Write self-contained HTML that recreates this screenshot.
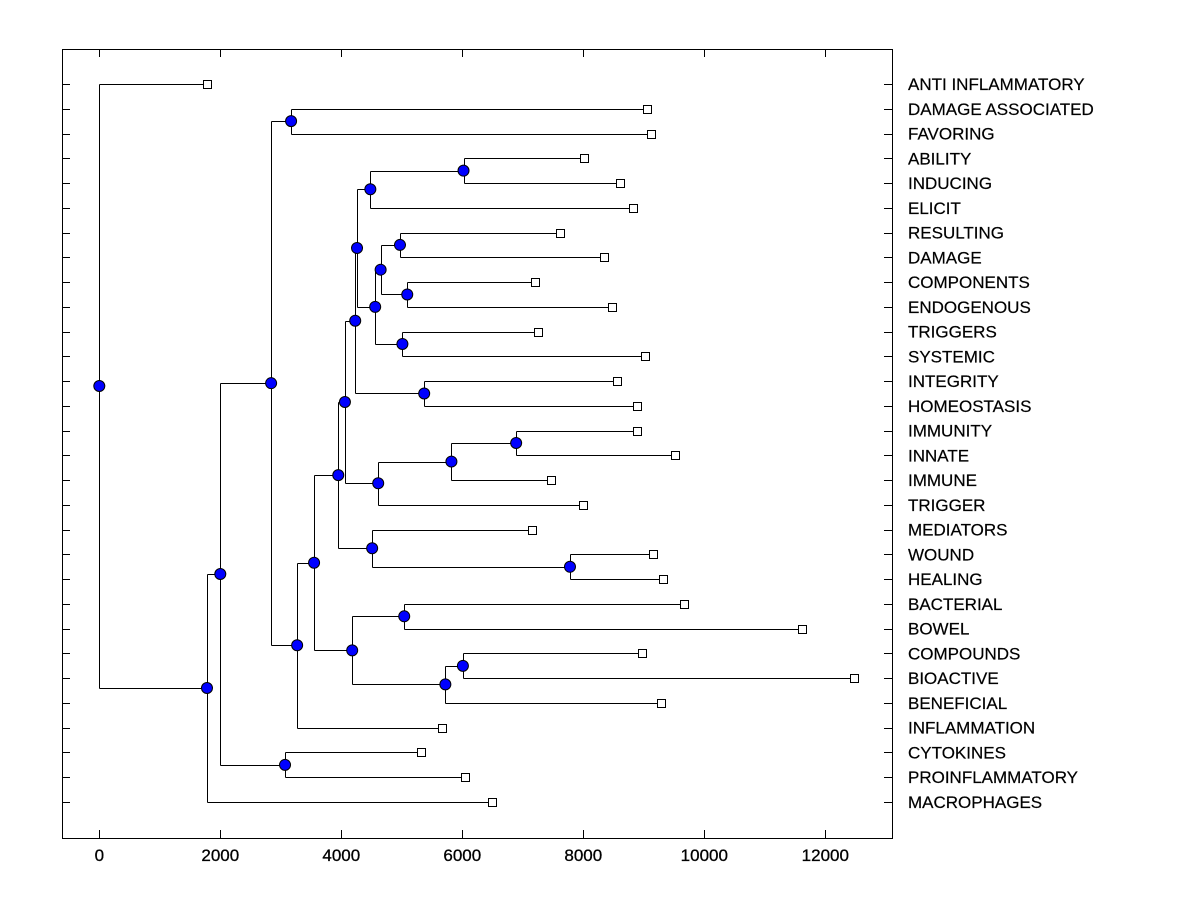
<!DOCTYPE html>
<html><head><meta charset="utf-8"><style>
html,body{margin:0;padding:0;background:#fff;}
svg{display:block;font-family:"Liberation Sans",Arial,sans-serif;}
</style></head><body>
<svg id="chart" width="1200" height="900" viewBox="0 0 1200 900" xmlns="http://www.w3.org/2000/svg">
<rect x="0" y="0" width="1200" height="900" fill="#fff"/>
<rect x="62.5" y="49.5" width="830" height="789" fill="none" stroke="#000" stroke-width="1"/>
<g id="axes"></g>
<g id="tree"></g>
<g id="marks"></g>
<g id="labels"></g>
</svg>
<script>
const leafNames = ["ANTI INFLAMMATORY","DAMAGE ASSOCIATED","FAVORING","ABILITY","INDUCING","ELICIT","RESULTING","DAMAGE","COMPONENTS","ENDOGENOUS","TRIGGERS","SYSTEMIC","INTEGRITY","HOMEOSTASIS","IMMUNITY","INNATE","IMMUNE","TRIGGER","MEDIATORS","WOUND","HEALING","BACTERIAL","BOWEL","COMPOUNDS","BIOACTIVE","BENEFICIAL","INFLAMMATION","CYTOKINES","PROINFLAMMATORY","MACROPHAGES"];
const leafValues = [1780,9050,9120,8010,8610,8820,7610,8340,7200,8470,7250,9020,8560,8890,8890,9510,7460,8000,7150,9150,9320,9670,11610,8970,12470,9290,5670,5320,6040,6490];
const nodeNames = ["X","AA","AB","Z","Y","W","V","T","U","P","S","R","Q","O","N","M","H","L","K","J","I","G","F","E","D","C","B","A","ROOT"];
const nodeHeights = [6020,4970,5090,5010,4650,4560,4480,4260,5370,4230,6890,5820,4610,7780,4510,4060,3950,6010,5720,5040,4180,3550,3270,3170,3070,2840,2000,1780,0];
const nodeChildren = [["L3","L4"],["L6","L7"],["L8","L9"],["L10","L11"],["AA","AB"],["Y","Z"],["X","L5"],["V","W"],["L12","L13"],["T","U"],["L14","L15"],["S","L16"],["R","L17"],["L19","L20"],["L18","O"],["P","Q"],["M","N"],["L23","L24"],["L","L25"],["L21","L22"],["J","K"],["H","I"],["G","L26"],["L1","L2"],["L27","L28"],["E","F"],["C","D"],["B","L29"],["L0","A"]];
const xTicks = [0,2000,4000,6000,8000,10000,12000];

const NS="http://www.w3.org/2000/svg";
const xScale = v => 99.3 + v*0.0605;
const rowY = i => 84 + i*(802-84)/29;
function mk(tag, attrs, parent){const e=document.createElementNS(NS,tag);for(const k in attrs)e.setAttribute(k,attrs[k]);parent.appendChild(e);return e;}
const axes=document.getElementById('axes'), tree=document.getElementById('tree'), marks=document.getElementById('marks'), labels=document.getElementById('labels');

xTicks.forEach(t=>{
  const x=Math.round(xScale(t))+0.5;
  const a=mk('line',{x1:x,x2:x,y1:838,y2:830,stroke:'#000'},axes);
  
  
  const b=mk('line',{x1:x,x2:x,y1:49,y2:57,stroke:'#000'},axes);
  
  
  const tx=mk('text',{x:xScale(t),y:861,'text-anchor':'middle','font-size':'17',fill:'#000','stroke':'#000','stroke-width':'0.3'},axes);
  tx.textContent=t;
  
  
});
leafNames.forEach((n,i)=>{
  const y=Math.round(rowY(i))+0.5;
  const a=mk('line',{x1:62,x2:70,y1:y,y2:y,stroke:'#000'},axes);
  
  
  const b=mk('line',{x1:884,x2:892,y1:y,y2:y,stroke:'#000'},axes);
  
  
  const t=mk('text',{x:908,y:rowY(i)+6,'font-size':'17',fill:'#000','stroke':'#000','stroke-width':'0.2',textLength:null},labels);
  t.removeAttribute('textLength');
  t.textContent=n;
  
  
});

const pos={};
leafNames.forEach((n,i)=>{pos['L'+i]={x:xScale(leafValues[i]),y:rowY(i),leaf:true};});
function place(name){
  if(pos[name])return pos[name];
  const k=nodeNames.indexOf(name);
  const c=nodeChildren[k].map(place);
  pos[name]={x:xScale(nodeHeights[k]),y:(c[0].y+c[1].y)/2,leaf:false};
  return pos[name];
}
nodeNames.forEach(place);
nodeNames.forEach((name,k)=>{
  const p=pos[name];
  const c=nodeChildren[k].map(n=>pos[n]);
  const px=Math.round(p.x)+0.5;
  const v=mk('line',{x1:px,x2:px,y1:Math.round(c[0].y)+0.5,y2:Math.round(c[1].y)+0.5,stroke:'#000'},tree);
  
  
  c.forEach(ch=>{
    const cy=Math.round(ch.y)+0.5;
    const h=mk('line',{x1:px,x2:Math.round(ch.x)+0.5,y1:cy,y2:cy,stroke:'#000'},tree);
    
    
  });
  const dot=mk('circle',{cx:p.x,cy:p.y,r:5.5,fill:'#0000ff',stroke:'#000','stroke-width':1},marks);
  
  
});
leafNames.forEach((n,i)=>{
  const p=pos['L'+i];
  const s=mk('rect',{x:Math.round(p.x)-3.5,y:Math.round(p.y)-3.5,width:8,height:8,fill:'#fff',stroke:'#000'},marks);
  
  
});
</script>
</body></html>
